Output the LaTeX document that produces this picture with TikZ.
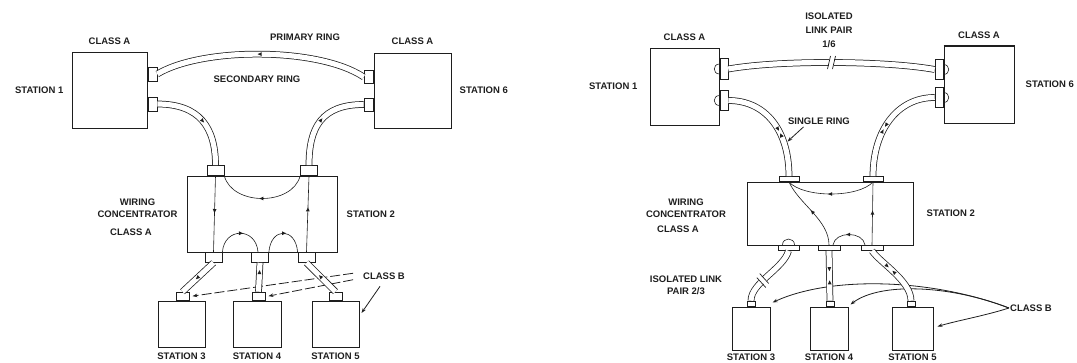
\documentclass[tikz,border=0pt]{standalone}
\usepackage{fontspec}
\setmainfont{Liberation Sans}
\usetikzlibrary{positioning,arrows.meta,shapes.geometric}
\definecolor{ink}{HTML}{1E1E1E}

\begin{document}
\begin{tikzpicture}[
    x=1pt, y=-1pt,
    lbl/.style={font=\bfseries\fontsize{9.5}{11.5}\selectfont, text=ink, inner sep=1pt, align=center},
    stn/.style={draw=ink, line width=1pt, inner sep=0pt},
    plug/.style={draw=ink, fill=white, line width=.8pt, inner sep=0pt},
    tube/.style={draw=ink, double=white, double distance=5.2pt, line width=.75pt},
    wire/.style={draw=ink, line width=.6pt},
    mk/.style={isosceles triangle, isosceles triangle apex angle=50, fill=ink, inner sep=0pt,
               minimum size=3.8pt, sloped, allow upside down},
    mkr/.style={mk, shape border rotate=180},
    ptr/.style={-{Stealth[length=5pt,width=3.5pt]}, draw=ink, line width=.8pt},
    dptr/.style={ptr, dash pattern=on 10pt off 3pt},
    brk/.pic={\fill[white] (-2.2,-7.5) rectangle (2.2,7.5);
              \draw[ink, line width=.7pt] (-4,6.5) -- (-1,-6.5) (1,6.5) -- (4,-6.5);},
  ]
  \useasboundingbox (0,0) rectangle (1077,362);
  \clip (0,0) rectangle (1077,362);

  % left: primary and secondary ring, all stations Class A or Class B
  \node[stn, minimum width=75pt, minimum height=76pt]  (st1) at (109.5,90) {};
  \node[stn, minimum width=77pt, minimum height=75pt]  (st6) at (412.5,90.5) {};
  \node[stn, minimum width=150pt, minimum height=76pt] (wc)  at (262,214) {};
  \node[stn, minimum width=47pt, minimum height=46pt]  (st3) at (181.5,324) {};
  \node[stn, minimum width=48pt, minimum height=46pt]  (st4) at (257,324) {};
  \node[stn, minimum width=47pt, minimum height=46pt]  (st5) at (335.5,324) {};

  \node[plug, minimum width=9pt, minimum height=14pt, anchor=west] (p1a) at ([yshift=16pt]st1.east) {};
  \node[plug, minimum width=9pt, minimum height=14pt, anchor=west] (p1b) at ([yshift=-14pt]st1.east) {};
  \node[plug, minimum width=9pt, minimum height=13pt, anchor=east] (p6a) at ([yshift=13.5pt]st6.west) {};
  \node[plug, minimum width=9pt, minimum height=13pt, anchor=east] (p6b) at ([yshift=-14pt]st6.west) {};
  \node[plug, minimum width=17pt, minimum height=10pt, anchor=south] (wcin1)  at (215.5,176) {};
  \node[plug, minimum width=17pt, minimum height=10pt, anchor=south] (wcin2)  at (309,176) {};
  \node[plug, minimum width=17pt, minimum height=10pt, anchor=north] (wcout3) at (213.5,252) {};
  \node[plug, minimum width=17pt, minimum height=10pt, anchor=north] (wcout4) at (260,252) {};
  \node[plug, minimum width=17pt, minimum height=10pt, anchor=north] (wcout5) at (306.5,252) {};
  \node[plug, minimum width=13pt, minimum height=8pt, anchor=south] (p3) at ([xshift=1pt]st3.north) {};
  \node[plug, minimum width=13pt, minimum height=8pt, anchor=south] (p4) at ([xshift=1.5pt]st4.north) {};
  \node[plug, minimum width=13pt, minimum height=8pt, anchor=south] (p5) at (st5.north) {};

  \node[lbl, above=6pt of st1]  (cla1)   {CLASS A};
  \node[lbl, above=7pt of st6]  (cla6)   {CLASS A};
  \node[lbl, left=7pt of st1]   (nst1)   {STATION 1};
  \node[lbl, right=7pt of st6]  (nst6)   {STATION 6};
  \node[lbl] (prim)   at (305,37)    {PRIMARY RING};
  \node[lbl] (sec)    at (257,79)    {SECONDARY RING};
  \node[lbl] (wcname) at (137.5,208) {WIRING\\CONCENTRATOR};
  \node[lbl] (wccls)  at (131,232)   {CLASS A};
  \node[lbl, right=8pt of wc]   (nst2)   {STATION 2};
  \node[lbl, below=4.5pt of st3] (nst3)  {STATION 3};
  \node[lbl, below=4.5pt of st4] (nst4)  {STATION 4};
  \node[lbl, below=4.5pt of st5] (nst5)  {STATION 5};
  \node[lbl] (clsb)   at (384,276)   {CLASS B};

  \draw[dptr, shorten <=9pt] ([yshift=4pt]clsb.west) -- ([xshift=3pt]p3.east);
  \draw[dptr, shorten <=9pt] ([yshift=-2pt]clsb.west) -- ([xshift=3pt]p4.east);
  \draw[ptr, shorten <=7pt] (clsb.south) -- ([xshift=2pt,yshift=11pt]st5.east);

  \draw[tube] (p1a.east) .. controls +(45,-27) and +(-45,-30) .. node[mkr, pos=.5] {} (p6a.west);
  \draw[tube] (p1b.east) .. controls +(42,0) and +(0,-38) .. node[mk, pos=.5] {} (wcin1.north);
  \draw[tube] (p6b.west) .. controls +(-42,0) and +(0,-38) .. node[mkr, pos=.5] {} (wcin2.north);
  \draw[tube] (wcout3.south) -- node[mk, pos=.5] {} (p3.north);
  \draw[tube] (wcout4.south) -- node[mkr, pos=.35] {} (p4.north);
  \draw[tube] (wcout5.south) -- node[mkr, pos=.5] {} (p5.north);

  \draw[wire] (wcin1.south) -- node[mk, pos=.45] {} (wcout3.north);
  \draw[wire] (wcout5.north) -- node[mk, pos=.55] {} (wcin2.south);
  \draw[wire] (wcin2.south west) .. controls +(-8,30) and +(8,30) .. node[mk, pos=.5] {} (wcin1.south east);
  \draw[wire] (wcout3.north east) .. controls +(2,-25) and +(-2,-25) .. node[mk, pos=.5] {} ([xshift=-2pt]wcout4.north);
  \draw[wire] (wcout4.north east) .. controls +(2,-25) and +(-2,-25) .. node[mk, pos=.5] {} (wcout5.north west);

  % right: single ring, isolated link pairs bypassed in the concentrator
  \node[stn, minimum width=69pt, minimum height=77pt]  (rs1) at (684.5,86.5) {};
  \node[stn, minimum width=70pt, minimum height=77pt]  (rs6) at (979,84.5) {};
  \node[stn, minimum width=166pt, minimum height=63pt] (rwc) at (830,213.5) {};
  \node[stn, minimum width=38pt, minimum height=43pt]  (rs3) at (751,328.5) {};
  \node[stn, minimum width=38pt, minimum height=43pt]  (rs4) at (829,328.5) {};
  \node[stn, minimum width=41pt, minimum height=43pt]  (rs5) at (912.5,328.5) {};
  \draw[ink, line width=2pt] (rs6.north west) -- (rs6.north east);

  \node[plug, minimum width=8pt, minimum height=21pt, anchor=west] (q1a) at ([yshift=17.5pt]rs1.east) {};
  \node[plug, minimum width=8pt, minimum height=20pt, anchor=west] (q1b) at ([yshift=-14pt]rs1.east) {};
  \node[plug, minimum width=8pt, minimum height=20pt, anchor=east] (q6a) at ([yshift=15pt]rs6.west) {};
  \node[plug, minimum width=8pt, minimum height=20pt, anchor=east] (q6b) at ([yshift=-13pt]rs6.west) {};
  \node[plug, minimum width=20pt, minimum height=5pt, anchor=south] (rin1)  at (789,182) {};
  \node[plug, minimum width=20pt, minimum height=5pt, anchor=south] (rin2)  at (873,182) {};
  \node[plug, minimum width=21pt, minimum height=5pt, anchor=north] (rout3) at (788.5,245) {};
  \node[plug, minimum width=22pt, minimum height=5pt, anchor=north] (rout4) at (829,245) {};
  \node[plug, minimum width=22pt, minimum height=5pt, anchor=north] (rout5) at (872,245) {};
  \node[plug, minimum width=8pt, minimum height=5pt, anchor=south] (q3) at (rs3.north) {};
  \node[plug, minimum width=8pt, minimum height=5pt, anchor=south] (q4) at ([xshift=1pt]rs4.north) {};
  \node[plug, minimum width=8pt, minimum height=5pt, anchor=south] (q5) at ([xshift=-1.5pt]rs5.north) {};

  \draw[wire] ([yshift=5pt]q1a.west) .. controls +(-7,0) and +(-7,0) .. ([yshift=-5pt]q1a.west);
  \draw[wire] ([yshift=5pt]q1b.west) .. controls +(-7,0) and +(-7,0) .. ([yshift=-5pt]q1b.west);
  \draw[wire] ([yshift=5pt]q6a.east) .. controls +(7,0) and +(7,0) .. ([yshift=-5pt]q6a.east);
  \draw[wire] ([yshift=5pt]q6b.east) .. controls +(7,0) and +(7,0) .. ([yshift=-5pt]q6b.east);
  \draw[wire] ([xshift=-6pt]rout3.north) .. controls +(0,-8) and +(0,-8) .. ([xshift=6pt]rout3.north);

  \node[lbl, above=6pt of rs1]  (rcla1)  {CLASS A};
  \node[lbl, above=6pt of rs6]  (rcla6)  {CLASS A};
  \node[lbl, left=11pt of rs1]  (rnst1)  {STATION 1};
  \node[lbl, right=10pt of rs6] (rnst6)  {STATION 6};
  \node[lbl] (iso16)   at (829,30)    {ISOLATED\\[2.5pt]LINK PAIR\\[2.5pt]1/6};
  \node[lbl] (single)  at (819,121)   {SINGLE RING};
  \node[lbl] (rwcname) at (686,208)   {WIRING\\CONCENTRATOR};
  \node[lbl] (rwccls)  at (678,229)   {CLASS A};
  \node[lbl, right=12pt of rwc] (rnst2)  {STATION 2};
  \node[lbl] (iso23)   at (686,285.5) {ISOLATED LINK\\PAIR 2/3};
  \node[lbl, below=2.5pt of rs3] (rnst3) {STATION 3};
  \node[lbl, below=2.5pt of rs4] (rnst4) {STATION 4};
  \node[lbl, below=2.5pt of rs5] (rnst5) {STATION 5};
  \node[lbl] (rclsb)   at (1031,308)  {CLASS B};

  \draw[ptr] (rclsb.west) .. controls (930,278) and (830,276) .. ([xshift=2pt,yshift=4pt]rs3.north east);
  \draw[ptr] (rclsb.west) .. controls (950,285) and (880,282) .. ([xshift=2pt,yshift=2pt]rs4.north east);
  \draw[ptr] (rclsb.west) .. controls +(-25,8) and +(20,-6) .. ([xshift=4pt,yshift=2pt]rs5.east);

  \draw[tube] (q1a.east) .. controls +(50,-9) and +(-50,-9) .. node[coordinate, pos=.5] (cut16) {} (q6a.west);
  \draw[tube] (q1b.east) .. controls +(38,0) and +(0,-45) .. node[mk, pos=.58] {} node[mkr, pos=.66] {}
    node[coordinate, pos=.74] (ringpt) {} (rin1.north);
  \draw[tube] (q6b.west) .. controls +(-38,0) and +(0,-45) .. node[mk, pos=.55] {} node[mkr, pos=.63] {} (rin2.north);
  \draw[tube] (rout3.south) .. controls +(-5,18) and +(0,-18) .. node[coordinate, pos=.6] (cut23) {} (q3.north);
  \draw[tube] (rout4.south) -- node[mk, pos=.35] {} node[mkr, pos=.65] {} (q4.north);
  \draw[tube] (rout5.south) .. controls +(8,12) and +(0,-20) .. node[mk, pos=.35] {} node[mkr, pos=.5] {} (q5.north);
  \pic at (cut16) {brk};
  \pic[rotate=55] at (cut23) {brk};
  \draw[ptr, shorten <=2pt, shorten >=4pt] ([xshift=-14pt]single.south) -- (ringpt);

  \draw[wire] (rin2.south) .. controls +(-15,16) and +(15,16) .. node[mk, pos=.5] {} (rin1.south);
  \draw[wire] (rout4.north) .. controls +(0,-25) and +(10,22) .. node[mk, pos=.5] {} (rin1.south);
  \draw[wire] (rout5.north) -- node[mk, pos=.5] {} (rin2.south);
  \draw[wire] ([xshift=-7pt]rout5.north) .. controls +(-2,-14) and +(2,-14) .. node[mk, pos=.5] {} ([xshift=4pt]rout4.north);
\end{tikzpicture}
\end{document}
